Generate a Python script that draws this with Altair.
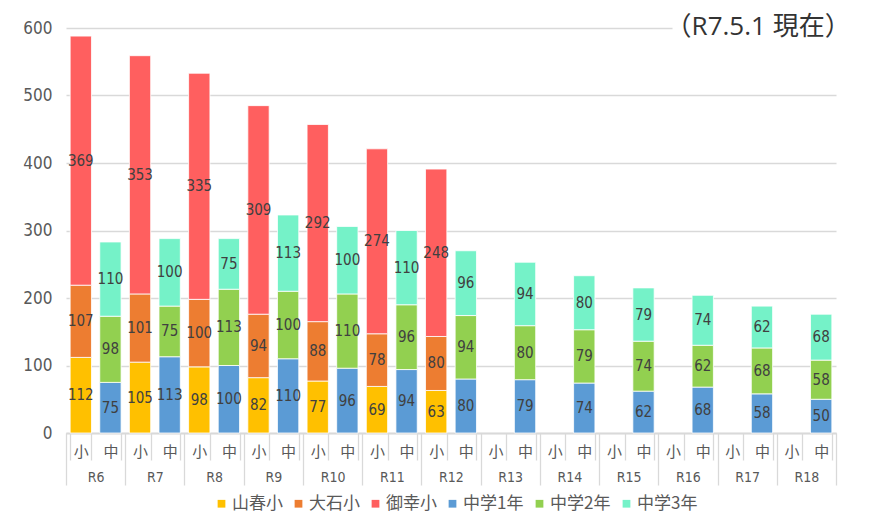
import altair as alt
import pandas as pd

years = ["R6", "R7", "R8", "R9", "R10", "R11", "R12", "R13", "R14", "R15", "R16", "R17", "R18"]
kinds = ["小", "中"]
series_names = ["山春小", "大石小", "御幸小", "中学1年", "中学2年", "中学3年"]
series_colors = ["#FFC000", "#ED7D31", "#FF5F5F", "#5B9BD5", "#92D050", "#75F2C8"]

yamaharu = [112, 105, 98, 82, 77, 69, 63]
ohishi = [107, 101, 100, 94, 88, 78, 80]
miyuki = [369, 353, 335, 309, 292, 274, 248]
chu1 = [75, 113, 100, 110, 96, 94, 80, 79, 74, 62, 68, 58, 50]
chu2 = [98, 75, 113, 100, 110, 96, 94, 80, 79, 74, 62, 68, 58]
chu3 = [110, 100, 75, 113, 100, 110, 96, 94, 80, 79, 74, 62, 68]
note_text = "（R7.5.1 現在）"

NUM_FONT = "Liberation Sans Narrow, DejaVu Sans Condensed, Roboto Condensed, sans-serif"
CJK_FONT = "Noto Sans CJK JP"

rows = []
sho_series = [yamaharu, ohishi, miyuki]
chu_series = [chu1, chu2, chu3]
for i, y in enumerate(years):
    for j, vals in enumerate(sho_series):
        if i < len(vals):
            rows.append({"year": y, "key": y + "|小", "series": series_names[j], "order": j, "value": vals[i]})
    for j, vals in enumerate(chu_series):
        rows.append({"year": y, "key": y + "|中", "series": series_names[3 + j], "order": 3 + j, "value": vals[i]})
df = pd.DataFrame(rows)

keys = [y + "|" + k for y in years for k in kinds]

xA = alt.X(
    "key:N",
    scale=alt.Scale(domain=keys, paddingInner=0.28, paddingOuter=0.14),
    axis=alt.Axis(
        title=None, labelExpr="split(datum.label, '|')[1]", labelAngle=0,
        tickBand="extent", tickSize=27, tickColor="#d9d9d9", tickWidth=1.3,
        domainColor="#d9d9d9", domainWidth=1.3,
        labelPadding=-16, labelFont=CJK_FONT, labelFontSize=15, labelColor="#595959",
    ),
)

base = alt.Chart(df).transform_stack(
    stack="value", groupby=["key"], as_=["y0", "y1"], sort=[alt.SortField("order")]
).transform_calculate(mid="(datum.y0 + datum.y1) / 2")

yscale = alt.Scale(domain=[0, 600], nice=False)

bars = base.mark_bar(stroke="white", strokeWidth=0.8).encode(
    x=xA,
    y=alt.Y(
        "y0:Q", scale=yscale,
        axis=alt.Axis(
            title=None, values=[0, 100, 200, 300, 400, 500, 600], domain=False, ticks=False,
            grid=True, gridColor="#d9d9d9", gridWidth=1.3,
            gridDash={"condition": {"test": "datum.value === 600", "value": [606, 400]}, "value": []},
            labelPadding=14, labelFont=NUM_FONT, labelFontSize=17, labelColor="#595959",
        ),
    ),
    y2="y1:Q",
    color=alt.Color(
        "series:N",
        scale=alt.Scale(domain=series_names, range=series_colors),
        legend=alt.Legend(
            title=None, orient="none", direction="horizontal", legendX=147, legendY=467,
            symbolType="square", symbolSize=60, symbolStrokeWidth=0, labelFont=CJK_FONT,
            labelFontSize=17, labelColor="#595959", labelOffset=2, columnPadding=7, padding=0,
        ),
    ),
)

labels = base.mark_text(font=NUM_FONT, fontSize=15, color="#404040").encode(
    x=alt.X("key:N", scale=alt.Scale(domain=keys, paddingInner=0.28, paddingOuter=0.14)),
    y=alt.Y("mid:Q", scale=yscale),
    text="value:Q",
)

groups = alt.Chart(pd.DataFrame({"year": years})).mark_point(opacity=0).encode(
    x=alt.X(
        "year:N",
        scale=alt.Scale(domain=years, paddingInner=0, paddingOuter=0),
        axis=alt.Axis(
            title=None, orient="bottom", labelAngle=0,
            tickBand="extent", tickSize=52, tickColor="#d9d9d9", tickWidth=1.3,
            domainColor="#d9d9d9", domainWidth=1.3,
            labelPadding=-15, labelFont=NUM_FONT, labelFontSize=14, labelColor="#595959",
        ),
    ),
    y=alt.value(0),
)

chart = alt.layer(bars + labels, groups).resolve_scale(x="independent").resolve_axis(x="independent").properties(
    width=770, height=405,
    title=alt.Title(note_text, anchor="end", fontSize=26, font="Open Sans, Noto Sans CJK JP", fontWeight="normal",
                    color="#333333", orient="top", offset=-21, dx=14),
    autosize=alt.AutoSizeParams(type="none"),
    padding={"left": 58, "top": 20, "right": 25, "bottom": 80},
).configure_view(stroke=None)

chart.save("out.html", embed_options={"renderer": "svg", "actions": False})
